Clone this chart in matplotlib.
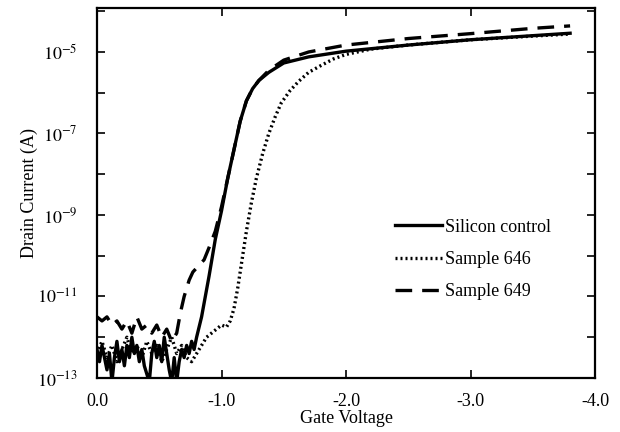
#!/usr/bin/env python3
'''
Drain current vs gate voltage for three samples (log scale)
'''
import numpy as np
import matplotlib
matplotlib.use('Agg')
import matplotlib.pyplot as plt

# Silicon control: gate voltage (V) and log10 drain current (A)
si_v = [0.00, -0.02, -0.04, -0.06, -0.08, -0.10, -0.12, -0.14, -0.16, -0.18,
        -0.20, -0.22, -0.24, -0.26, -0.28, -0.30, -0.32, -0.34, -0.36, -0.38,
        -0.40, -0.42, -0.44, -0.46, -0.48, -0.50, -0.52, -0.54, -0.56, -0.58,
        -0.60, -0.62, -0.64, -0.66, -0.68, -0.70, -0.72, -0.74, -0.76, -0.78,
        -0.80, -0.84, -0.87, -0.90, -0.95, -1.00, -1.05, -1.10, -1.15, -1.20,
        -1.25, -1.30, -1.38, -1.50, -1.70, -2.00, -2.50, -3.00, -3.50, -3.80]
si_log = [-12.3, -12.6, -12.2, -12.5, -12.8, -12.4, -13.1, -12.5, -12.1, -12.6,
          -12.3, -12.7, -12.2, -12.5, -12.0, -12.4, -12.2, -12.6, -12.3, -12.7,
          -12.9, -13.1, -12.4, -12.1, -12.5, -12.2, -12.6, -12.0, -12.4, -12.8,
          -13.1, -12.5, -13.1, -12.6, -12.3, -12.5, -12.2, -12.4, -12.1, -12.3,
          -12.0, -11.5, -11.0, -10.5, -9.6, -8.9, -8.1, -7.4, -6.7, -6.2,
          -5.9, -5.7, -5.5, -5.27, -5.12, -4.98, -4.83, -4.70, -4.60, -4.54]

# Sample 646
s646_v = [0.00, -0.04, -0.08, -0.12, -0.16, -0.20, -0.24, -0.28, -0.32, -0.36,
          -0.40, -0.44, -0.48, -0.52, -0.56, -0.60, -0.64, -0.68, -0.72, -0.76,
          -0.80, -0.84, -0.88, -0.92, -0.96, -1.00, -1.04, -1.07, -1.10, -1.13,
          -1.16, -1.20, -1.24, -1.28, -1.33, -1.38, -1.43, -1.48, -1.55, -1.62,
          -1.70, -1.80, -1.90, -2.00, -2.20, -2.50, -3.00, -3.50, -3.80]
s646_log = [-12.4, -12.1, -12.5, -12.2, -12.6, -12.3, -12.0, -12.4, -12.2, -12.5,
            -12.1, -12.4, -12.2, -12.6, -12.3, -12.0, -12.4, -12.2, -12.5, -12.6,
            -12.4, -12.2, -12.0, -11.9, -11.8, -11.7, -11.75, -11.6, -11.3, -10.8,
            -10.2, -9.4, -8.7, -8.1, -7.5, -7.0, -6.6, -6.25, -5.95, -5.72,
            -5.5, -5.33, -5.17, -5.06, -4.93, -4.83, -4.70, -4.61, -4.56]

# Sample 649
s649_v = [0.00, -0.04, -0.08, -0.12, -0.16, -0.20, -0.24, -0.28, -0.32, -0.36,
          -0.40, -0.44, -0.48, -0.52, -0.56, -0.60, -0.64, -0.67, -0.70, -0.74,
          -0.77, -0.80, -0.83, -0.86, -0.90, -0.95, -1.00, -1.05, -1.10, -1.15,
          -1.20, -1.25, -1.30, -1.38, -1.50, -1.70, -2.00, -2.50, -3.00, -3.50,
          -3.80]
s649_log = [-11.5, -11.6, -11.5, -11.7, -11.6, -11.8, -11.6, -11.9, -11.5, -11.8,
            -11.7, -11.9, -11.7, -12.0, -11.8, -12.1, -11.9, -11.4, -11.0, -10.6,
            -10.4, -10.3, -10.2, -10.1, -9.8, -9.4, -8.8, -8.1, -7.4, -6.7,
            -6.2, -5.9, -5.7, -5.45, -5.2, -5.0, -4.83, -4.67, -4.55, -4.42,
            -4.36]

x_ticks = [0.0, -1.0, -2.0, -3.0, -4.0]
x_labels = ['0.0', '-1.0', '-2.0', '-3.0', '-4.0']
y_major = [1e-13, 1e-11, 1e-9, 1e-7, 1e-5]
y_labels = ['$10^{-13}$', '$10^{-11}$', '$10^{-9}$', '$10^{-7}$', '$10^{-5}$']
y_minor = [1e-12, 1e-10, 1e-8, 1e-6, 1e-4]

plt.rcParams['font.family'] = ['Liberation Serif', 'DejaVu Serif']
plt.rcParams['mathtext.fontset'] = 'stix'

fig = plt.figure(figsize=(6.2, 4.32), dpi=100)
ax = fig.add_axes([97 / 620, 54 / 432, 498 / 620, 370 / 432])

ax.plot(si_v, 10 ** np.array(si_log), color='black', lw=2.4,
        label='Silicon control')
ax.plot(s646_v, 10 ** np.array(s646_log), color='black', lw=2.4,
        linestyle=(0, (0.6, 0.9)), label='Sample 646')
ax.plot(s649_v, 10 ** np.array(s649_log), color='black', lw=2.4,
        linestyle=(0, (5, 3)), label='Sample 649')

ax.set_yscale('log')
ax.set_xlim(0, -4)
ax.set_ylim(1e-13, 1.2e-4)
ax.set_xticks(x_ticks)
ax.set_xticklabels(x_labels)
ax.set_yticks(y_major)
ax.set_yticklabels(y_labels)
ax.set_yticks(y_minor, minor=True)
ax.yaxis.set_minor_formatter(matplotlib.ticker.NullFormatter())
ax.tick_params(which='both', direction='in', top=True, right=True,
               labelsize=13, width=1.2, length=6)
ax.tick_params(axis='x', pad=11)
ax.tick_params(axis='y', pad=14)
for s in ax.spines.values():
    s.set_linewidth(1.6)

ax.set_xlabel('Gate Voltage', fontsize=13, labelpad=0)
ax.set_ylabel('Drain Current (A)', fontsize=13, labelpad=-1)

ax.legend(loc='upper left', bbox_to_anchor=(0.565, 0.475), frameon=False,
          fontsize=13, handlelength=2.6, handletextpad=0.2,
          labelspacing=0.85)

plt.savefig('out.png', dpi=100)
